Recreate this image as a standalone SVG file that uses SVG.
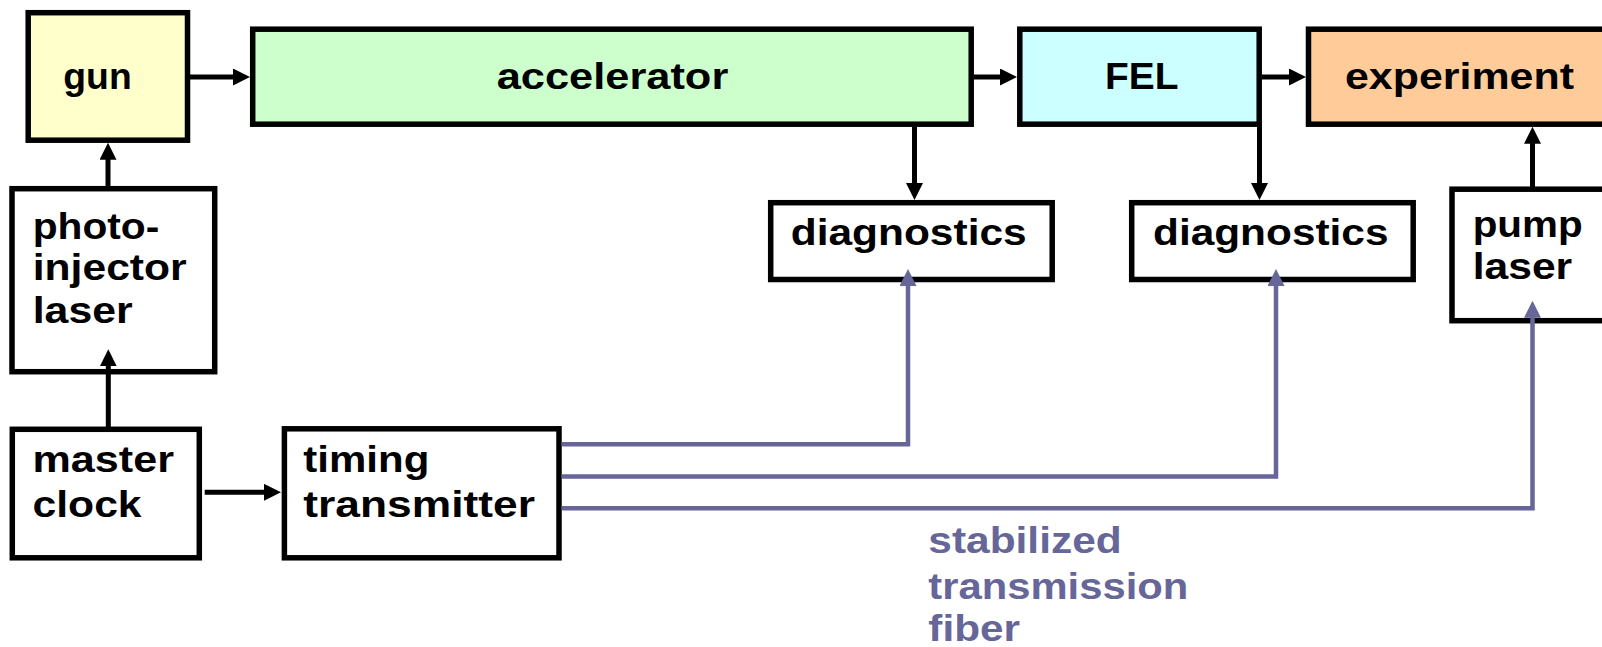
<svg xmlns="http://www.w3.org/2000/svg" width="1602" height="647" viewBox="0 0 1602 647">
<style>
.box{stroke:#000;stroke-width:5.5;}
.t{font-family:"Liberation Sans",Arial,sans-serif;font-weight:bold;font-size:36.5px;fill:#000;}
.b{fill:#666699;}
.c{fill:none;stroke:#000;stroke-width:5;}
.f{fill:none;stroke:#666699;stroke-width:4.5;stroke-linejoin:miter;}
</style>
<defs>
<marker id="ak" markerUnits="userSpaceOnUse" markerWidth="17" markerHeight="17" viewBox="0 0 17 17" refX="9" refY="8.5" orient="auto"><path d="M0,0 L17,8.5 L0,17 z" fill="#000"/></marker>
<marker id="ab" markerUnits="userSpaceOnUse" markerWidth="17" markerHeight="17" viewBox="0 0 17 17" refX="9" refY="8.5" orient="auto"><path d="M0,0 L17,8.5 L0,17 z" fill="#666699"/></marker>
</defs>
<rect width="1602" height="647" fill="#fff"/>
<g id="gun"><rect class="box" x="28.2" y="12.7" width="159.3" height="127.5" fill="#FFFFCC"/><text class="t" x="63.3" y="88.5" textLength="68.4" lengthAdjust="spacingAndGlyphs">gun</text></g>
<g id="accelerator"><rect class="box" x="252.7" y="29.2" width="718.5" height="95" fill="#CCFFCC"/><text class="t" x="496.7" y="88.5" textLength="231.6" lengthAdjust="spacingAndGlyphs">accelerator</text></g>
<g id="fel"><rect class="box" x="1019.8" y="29.2" width="239.4" height="95" fill="#CCFFFF"/><text class="t" x="1105" y="89" textLength="73.4" lengthAdjust="spacingAndGlyphs">FEL</text></g>
<g id="experiment"><rect class="box" x="1308.5" y="29.2" width="320" height="95" fill="#FFCC99"/><text class="t" x="1345" y="88.5" textLength="229" lengthAdjust="spacingAndGlyphs">experiment</text></g>
<g id="diagnostics1"><rect class="box" x="770.7" y="202.7" width="281.5" height="76.8" fill="#fff"/><text class="t" x="790.7" y="245" textLength="236" lengthAdjust="spacingAndGlyphs">diagnostics</text></g>
<g id="diagnostics2"><rect class="box" x="1131.7" y="202.7" width="281.5" height="76.8" fill="#fff"/><text class="t" x="1153" y="245" textLength="235.5" lengthAdjust="spacingAndGlyphs">diagnostics</text></g>
<g id="pumplaser"><rect class="box" x="1452" y="189.2" width="200" height="131.5" fill="#fff"/><text class="t" x="1472.7" y="237" textLength="110" lengthAdjust="spacingAndGlyphs">pump</text><text class="t" x="1472.7" y="279" textLength="99.5" lengthAdjust="spacingAndGlyphs">laser</text></g>
<g id="photoinjector"><rect class="box" x="12" y="188.7" width="202.7" height="183" fill="#fff"/><text class="t" x="32.7" y="238.5" textLength="126.6" lengthAdjust="spacingAndGlyphs">photo-</text><text class="t" x="32.7" y="280" textLength="154" lengthAdjust="spacingAndGlyphs">injector</text><text class="t" x="32.7" y="322.5" textLength="100" lengthAdjust="spacingAndGlyphs">laser</text></g>
<g id="masterclock"><rect class="box" x="12.3" y="429.3" width="187" height="128.5" fill="#fff"/><text class="t" x="32.5" y="472" textLength="141.5" lengthAdjust="spacingAndGlyphs">master</text><text class="t" x="32.5" y="516.5" textLength="109.1" lengthAdjust="spacingAndGlyphs">clock</text></g>
<g id="timing"><rect class="box" x="284.4" y="428.8" width="274.6" height="129" fill="#fff"/><text class="t" x="303.3" y="472" textLength="126" lengthAdjust="spacingAndGlyphs">timing</text><text class="t" x="303.3" y="516.5" textLength="231.7" lengthAdjust="spacingAndGlyphs">transmitter</text></g>
<g id="connectors">
<path class="c" d="M190,77 H242" marker-end="url(#ak)"/>
<path class="c" d="M974,77 H1009" marker-end="url(#ak)"/>
<path class="c" d="M1262,77 H1298" marker-end="url(#ak)"/>
<path class="c" d="M914.5,126.5 V192" marker-end="url(#ak)"/>
<path class="c" d="M1259.5,126.5 V192" marker-end="url(#ak)"/>
<path class="c" d="M1532.5,187 V134.7" marker-end="url(#ak)"/>
<path class="c" d="M108,186 V150.7" marker-end="url(#ak)"/>
<path class="c" d="M108.3,427 V357.3" marker-end="url(#ak)"/>
<path class="c" d="M204.7,492.3 H273" marker-end="url(#ak)"/>
<path class="f" d="M561.7,444.3 H908 V277" marker-end="url(#ab)"/>
<path class="f" d="M561.7,476.5 H1276 V277" marker-end="url(#ab)"/>
<path class="f" d="M561.7,508.3 H1532.5 V308.7" marker-end="url(#ab)"/>
</g>
<g id="fiberlabel"><text class="t b" x="928.3" y="553" textLength="193.4" lengthAdjust="spacingAndGlyphs">stabilized</text><text class="t b" x="928.3" y="599" textLength="260" lengthAdjust="spacingAndGlyphs">transmission</text><text class="t b" x="928.3" y="641" textLength="91.7" lengthAdjust="spacingAndGlyphs">fiber</text></g>
</svg>
